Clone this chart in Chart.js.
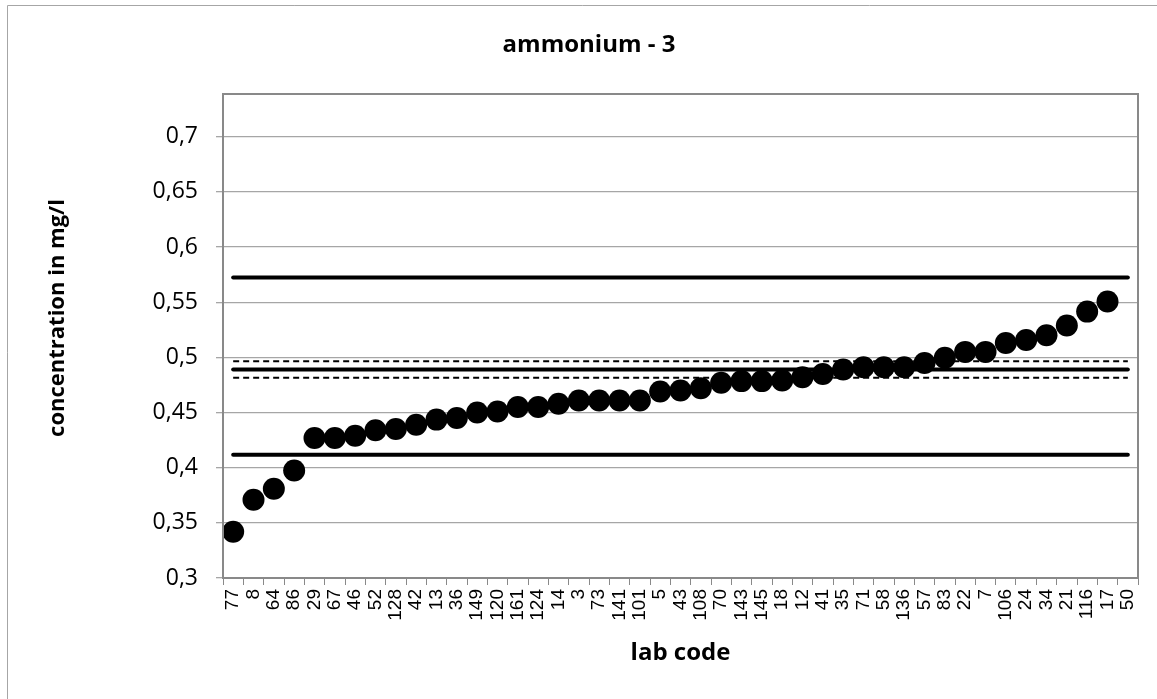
<!DOCTYPE html>
<html>
<head>
<meta charset="utf-8">
<script src="https://cdn.jsdelivr.net/npm/chart.js@4.4.1/dist/chart.umd.min.js"></script>
<style>
  html, body { margin: 0; padding: 0; background: #fff; }
  canvas { display: block; }
</style>
</head>
<body>
<canvas id="labChart" width="1157" height="699"></canvas>
<script>
const labCodes = ['77', '8', '64', '86', '29', '67', '46', '52', '128', '42', '13', '36', '149', '120', '161',
  '124', '14', '3', '73', '141', '101', '5', '43', '108', '70', '143', '145', '18', '12', '41', '35',
  '71', '58', '136', '57', '83', '22', '7', '106', '24', '34', '21', '116', '17', '50'];

const concentrations = [0.342, 0.371, 0.381, 0.3975, 0.427, 0.427, 0.429, 0.434, 0.435, 0.439, 0.4436,
  0.445, 0.450, 0.451, 0.455, 0.455, 0.458, 0.461, 0.461, 0.461, 0.461, 0.469, 0.470, 0.472, 0.477,
  0.4785, 0.4785, 0.479, 0.482, 0.485, 0.489, 0.491, 0.491, 0.491, 0.495, 0.4997, 0.505, 0.505, 0.513,
  0.5157, 0.520, 0.529, 0.5415, 0.5506, null];

// reference levels (solid: limits + assigned value, dashed: uncertainty band)
const upperLimit = 0.5725;
const assignedValue = 0.489;
const lowerLimit = 0.4118;
const upperBand = 0.4964;
const lowerBand = 0.4815;

const yTicks = [0.3, 0.35, 0.4, 0.45, 0.5, 0.55, 0.6, 0.65, 0.7];
const yTitle = 'concentration in mg/l';

const first = labCodes[0];
const last = labCodes[labCodes.length - 1];
const hline = (v) => [{ x: first, y: v }, { x: last, y: v }];

const textFont = '"Open Sans", "Noto Sans", sans-serif';

const frame = {
  id: 'frame',
  beforeDraw(chart) {
    const ctx = chart.ctx;
    ctx.save();
    ctx.fillStyle = '#fff';
    ctx.fillRect(0, 0, chart.width, chart.height);
    ctx.strokeStyle = '#a6a6a6';
    ctx.lineWidth = 1;
    ctx.beginPath();
    ctx.moveTo(7.5, chart.height);
    ctx.lineTo(7.5, 5.5);
    ctx.lineTo(chart.width, 5.5);
    ctx.stroke();
    ctx.restore();
  },
  afterDatasetsDraw(chart) {
    const a = chart.chartArea;
    const ctx = chart.ctx;
    ctx.save();
    ctx.strokeStyle = '#898989';
    ctx.lineWidth = 2;
    ctx.strokeRect(a.left, a.top, a.right - a.left, a.bottom - a.top);
    ctx.restore();
  },
  afterDraw(chart) {
    // y axis title sits a bit above the plot centre in the original
    const ctx = chart.ctx;
    ctx.save();
    ctx.translate(58, 318);
    ctx.rotate(-Math.PI / 2);
    ctx.font = 'bold 22px ' + textFont;
    ctx.fillStyle = '#000';
    ctx.textAlign = 'center';
    ctx.textBaseline = 'middle';
    ctx.fillText(yTitle, 0, 0);
    ctx.restore();
  }
};

const solid = { borderColor: '#000', borderWidth: 4, pointRadius: 0, borderCapStyle: 'round', fill: false, order: 0 };
const dashed = { borderColor: '#000', borderWidth: 2, pointRadius: 0, borderDash: [6, 4], fill: false, order: 0 };

new Chart(document.getElementById('labChart'), {
  type: 'line',
  data: {
    labels: labCodes,
    datasets: [
      { label: 'results', data: concentrations, showLine: false, pointRadius: 11, pointHoverRadius: 11,
        pointBackgroundColor: '#000', pointBorderWidth: 0, borderColor: '#000', order: 1 },
      { label: 'upper limit', data: hline(upperLimit), ...solid },
      { label: 'assigned value', data: hline(assignedValue), ...solid },
      { label: 'lower limit', data: hline(lowerLimit), ...solid },
      { label: 'upper band', data: hline(upperBand), ...dashed },
      { label: 'lower band', data: hline(lowerBand), ...dashed }
    ]
  },
  options: {
    responsive: false,
    animation: false,
    layout: { padding: { left: 40, right: 19, top: 0, bottom: 0 } },
    plugins: {
      legend: { display: false },
      tooltip: { enabled: false },
      title: {
        display: true,
        text: 'ammonium - 3',
        color: '#000',
        font: { family: textFont, size: 24, weight: 'bold' },
        padding: { top: 30.6, bottom: 34.6 }
      }
    },
    scales: {
      x: {
        offset: true,
        grid: { display: true, drawOnChartArea: false, offset: true, tickLength: 7, color: '#898989', lineWidth: 1 },
        border: { color: '#898989', width: 2 },
        ticks: {
          autoSkip: false, maxRotation: 90, minRotation: 90, padding: 4, color: '#000',
          font: { family: '"Liberation Sans", Arial, sans-serif', size: 19 }
        },
        title: {
          display: true, text: 'lab code', color: '#000',
          font: { family: textFont, size: 24, weight: 'bold' },
          padding: { top: 4, bottom: 31.6 }
        },
        afterFit(scale) { scale.height = 121; }
      },
      y: {
        min: 0.3,
        max: 0.7388,
        grid: { color: '#a6a6a6', lineWidth: 1.3, tickLength: 7 },
        border: { color: '#898989', width: 2 },
        afterBuildTicks(scale) { scale.ticks = yTicks.map(v => ({ value: v })); },
        ticks: {
          padding: 18, color: '#000',
          font: { family: textFont, size: 23 },
          callback: (v) => Number(v.toFixed(2)).toString().replace('.', ',')
        },
        title: { display: false },
        afterFit(scale) { scale.width = 183; }
      }
    }
  },
  plugins: [frame]
});
</script>
</body>
</html>
